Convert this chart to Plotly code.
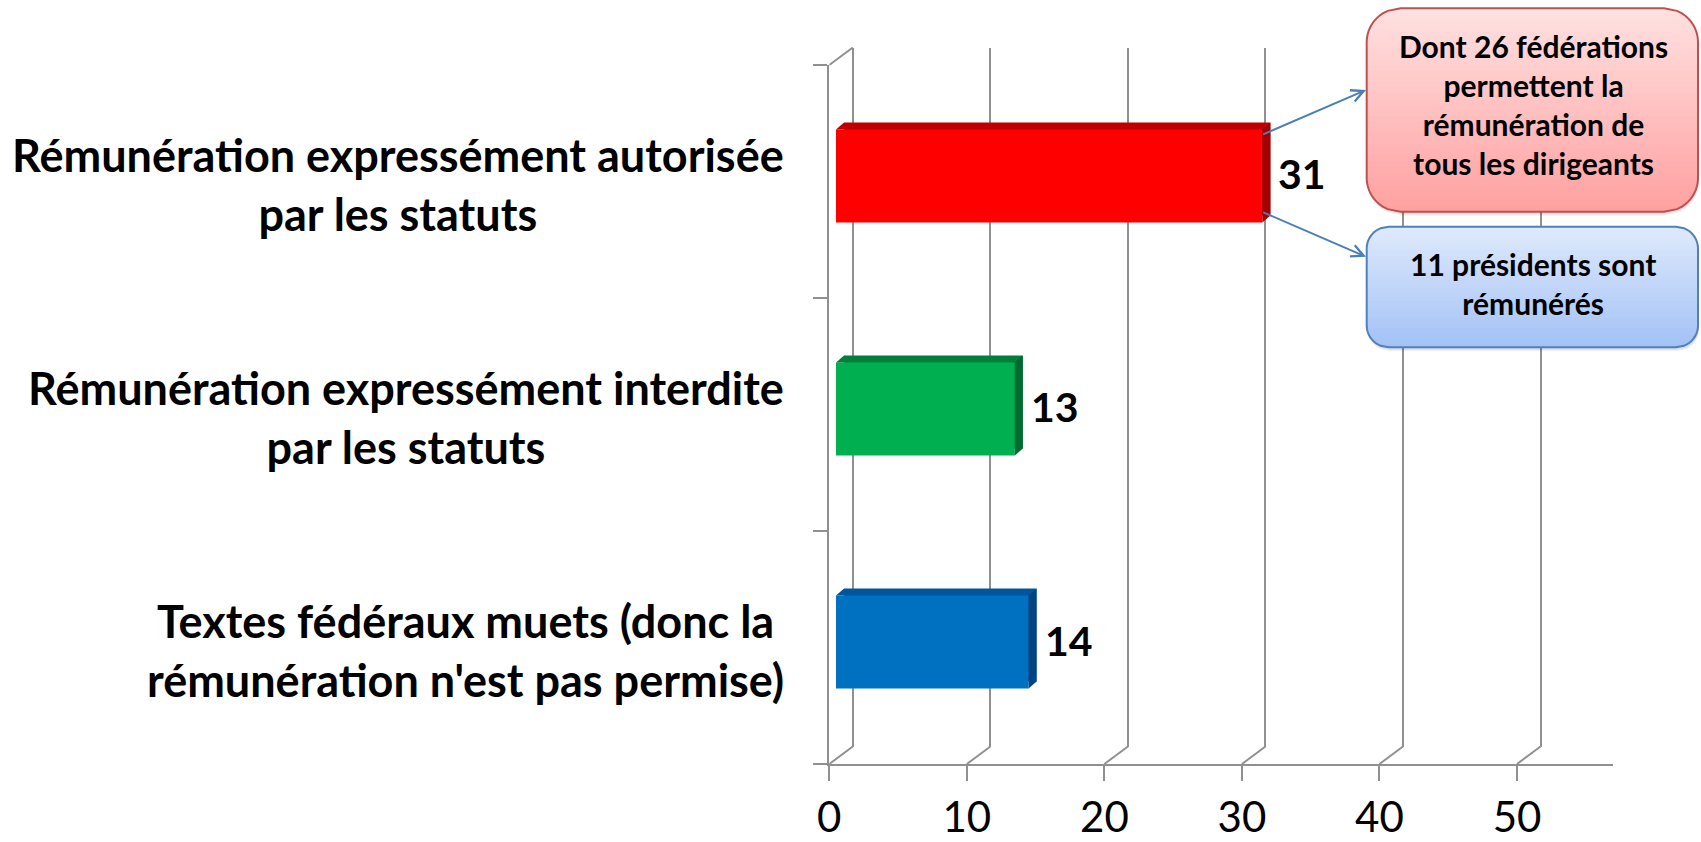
import numpy as np
import plotly.graph_objects as go

# ---- data -------------------------------------------------------------
CATEGORIES = [
    "Rémunération expressément autorisée<br>par les statuts",
    "Rémunération expressément interdite<br>par les statuts",
    "Textes fédéraux muets (donc la<br>rémunération n'est pas permise)",
]
VALUES = [31, 13, 14]
BAR_COLORS = ["#FF0000", "#00B050", "#0070C0"]
TOP_COLORS = ["#C00000", "#007F3A", "#00569E"]
SIDE_COLORS = ["#A30000", "#006B31", "#004580"]
X_TICKS = [0, 10, 20, 30, 40, 50]
X_MAX = 57

CALLOUT_RED = "Dont 26 fédérations<br>permettent la<br>rémunération de<br>tous les dirigeants"
CALLOUT_BLUE = "11 présidents sont<br>rémunérés"

# ---- geometry (pixels of the 1701x842 page) ---------------------------
W, H = 1701, 842
FONT = "Lato, 'Open Sans', sans-serif"
GRID = "#909090"

X0, X1 = 829.3, 1613.3          # front x axis
Y0, Y1 = 65, 764                # front y axis (top, bottom)
PPU = (X1 - X0) / X_MAX
BACK = (23.5, 17.5)             # depth of the back wall
FACE = (6.7, 5.5)               # front face of the bars
EXT = (8, 7)                    # bar thickness
BAR_W = 0.4
BAR_PX = BAR_W * (Y1 - Y0) / len(CATEGORIES)
PAD = 0.3                       # keeps the back gridline at 0 inside the range


def fx(x):
    return x / W


def fy(y):
    return 1 - y / H


def axes_pair(dx, dy, pad=0.0):
    return [fx(X0 + dx - pad * PPU), fx(X1 + dx)], [fy(Y1 - dy), fy(Y0 - dy)]


n = len(CATEGORIES)
y_pos = list(range(n))
y_range = [n - 0.5, -0.5]

fig = go.Figure()

# empty traces so the front and back axes get drawn
fig.add_trace(go.Scatter(x=[None], y=[None], xaxis="x", yaxis="y",
                         showlegend=False, hoverinfo="skip"))
fig.add_trace(go.Scatter(x=[None], y=[None], xaxis="x2", yaxis="y2",
                         showlegend=False, hoverinfo="skip"))

# depth of the bars (top face), then front faces
fig.add_trace(go.Bar(x=VALUES, y=y_pos, orientation="h", width=BAR_W,
                     marker=dict(color=TOP_COLORS, line_width=0),
                     xaxis="x3", yaxis="y3", showlegend=False, hoverinfo="skip"))
fig.add_trace(go.Bar(x=VALUES, y=y_pos, orientation="h", width=BAR_W,
                     marker=dict(color=BAR_COLORS, line_width=0),
                     xaxis="x4", yaxis="y4", showlegend=False,
                     hovertemplate="%{x}<extra></extra>"))

shapes = []
# side wall edge at the top and floor edges
shapes.append(dict(type="line", xref="x", yref="y domain", xsizemode="pixel", ysizemode="pixel",
                   xanchor=0, yanchor=1, x0=0, y0=0, x1=BACK[0], y1=BACK[1],
                   line=dict(color=GRID, width=2)))
for t in X_TICKS:
    shapes.append(dict(type="line", xref="x", yref="y domain", xsizemode="pixel", ysizemode="pixel",
                       xanchor=t, yanchor=0, x0=0, y0=0, x1=BACK[0], y1=BACK[1],
                       line=dict(color=GRID, width=2)))

# 3d faces of the bars
for i, v in enumerate(VALUES):
    h = BAR_PX / 2
    shapes.append(dict(type="path", xref="x4", yref="y4", xsizemode="pixel", ysizemode="pixel",
                       xanchor=v, yanchor=i,
                       path=f"M0,{h} L{EXT[0]},{h + EXT[1]} L{EXT[0]},{-h + EXT[1]} L0,{-h} Z",
                       fillcolor=SIDE_COLORS[i], line_width=0))
    shapes.append(dict(type="path", xref="x4", yref="y4", xsizemode="pixel", ysizemode="pixel",
                       xanchor=0, yanchor=i - BAR_W / 2,
                       path=f"M0,0 L{EXT[0]},0 L{EXT[0]},{EXT[1]} Z",
                       fillcolor=TOP_COLORS[i], line_width=0))


def rounded_box(x0, y0, x1, y1, r, c_top, c_bot, border, steps=36):
    """Rounded rectangle with a vertical gradient, built from thin strips."""
    def inset(y, top, bot):
        if y < top + r:
            d = top + r - y
        elif y > bot - r:
            d = y - (bot - r)
        else:
            return 0.0
        return r - np.sqrt(max(r * r - d * d, 0.0))

    def outline(ys, top=y0, bot=y1, dx=0):
        left = [(x0 + dx + inset(y, top, bot), y) for y in ys]
        right = [(x1 + dx - inset(y, top, bot), y) for y in ys[::-1]]
        pts = left + right
        return "M" + " L".join(f"{fx(a):.5f},{fy(b):.5f}" for a, b in pts) + " Z"

    out = []
    # soft shadow below the box
    for k, a in [(4, 0.06), (2.5, 0.08)]:
        out.append(dict(type="path", xref="paper", yref="paper",
                        path=outline(list(np.linspace(y0 + k, y1 + k, 60)), y0 + k, y1 + k, 1),
                        fillcolor=f"rgba(0,0,0,{a})", line_width=0))
    ct = np.array([int(c_top[k:k + 2], 16) for k in (1, 3, 5)])
    cb = np.array([int(c_bot[k:k + 2], 16) for k in (1, 3, 5)])
    edges = np.linspace(y0, y1, steps + 1)
    for k in range(steps):
        ya, yb = edges[k], min(edges[k + 1] + 1, y1)
        c = ct + (cb - ct) * (k + 0.5) / steps
        ys = list(np.linspace(ya, yb, 8))
        out.append(dict(type="path", xref="paper", yref="paper", path=outline(ys),
                        fillcolor="rgb(%d,%d,%d)" % tuple(c.round()), line_width=0))
    out.append(dict(type="path", xref="paper", yref="paper",
                    path=outline(list(np.linspace(y0, y1, 80))),
                    fillcolor="rgba(0,0,0,0)", line=dict(color=border, width=2)))
    return out


shapes += rounded_box(1366.7, 8.3, 1698, 211.7, 34, "#FFE1E1", "#FFA0A0", "#C0504D")
shapes += rounded_box(1366.7, 226.7, 1698, 347.3, 22, "#DFEAFC", "#A3C1F6", "#4F81BD")

annotations = []
for i, label in enumerate(CATEGORIES):
    annotations.append(dict(xref="paper", yref="y", x=fx(785.5), y=i, yshift=-3,
                            xanchor="right", yanchor="middle", align="center",
                            text=label, showarrow=False,
                            font=dict(family=FONT, size=45, color="black", weight="bold")))
for i, v in enumerate(VALUES):
    annotations.append(dict(xref="x4", yref="y4", x=v, y=i, xanchor="left", yanchor="middle",
                            xshift=14, yshift=2, text=f"<b>{v}</b>", showarrow=False,
                            font=dict(family=FONT, size=41, color="black")))

annotations.append(dict(xref="paper", yref="paper", x=fx(1533), y=fy(105), text=CALLOUT_RED,
                        showarrow=False, align="center", xanchor="center", yanchor="middle",
                        font=dict(family=FONT, size=30, color="black", weight="bold")))
annotations.append(dict(xref="paper", yref="paper", x=fx(1533), y=fy(283), text=CALLOUT_BLUE,
                        showarrow=False, align="center", xanchor="center", yanchor="middle",
                        font=dict(family=FONT, size=30, color="black", weight="bold")))
# arrows from the red bar to the callouts
for hx, hy, tx, ty in [(1366, 90, 1261.7, 135), (1366, 256.7, 1261.7, 211.7)]:
    annotations.append(dict(xref="paper", yref="paper", x=fx(hx), y=fy(hy), text="",
                            showarrow=True, axref="pixel", ayref="pixel",
                            ax=tx - hx, ay=ty - hy, arrowhead=5, arrowsize=1.2,
                            arrowwidth=2, arrowcolor="#4A7EBB"))

hidden = dict(showgrid=False, zeroline=False, showline=False, showticklabels=False,
              ticks="", automargin=False)

xd, yd = axes_pair(0, 0)
xd2, yd2 = axes_pair(*BACK, pad=PAD)
xd3, yd3 = axes_pair(FACE[0] + EXT[0], FACE[1] + EXT[1])
xd4, yd4 = axes_pair(*FACE)

fig.update_layout(
    width=W, height=H, autosize=False,
    margin=dict(l=0, r=0, t=0, b=0, pad=0, autoexpand=False),
    paper_bgcolor="white", plot_bgcolor="rgba(0,0,0,0)",
    showlegend=False, barmode="overlay",
    font=dict(family=FONT, color="black"),
    xaxis=dict(domain=xd, range=[0, X_MAX], anchor="y", tickvals=X_TICKS, automargin=False,
               showgrid=False, zeroline=False, showline=True, linecolor=GRID, linewidth=2,
               ticks="outside", ticklen=15, tickwidth=2, tickcolor=GRID,
               ticklabelstandoff=1, tickfont=dict(family=FONT, size=42, color="black")),
    yaxis=dict(domain=yd, range=y_range, anchor="x", automargin=False,
               tickvals=[k - 0.5 for k in range(n + 1)], showticklabels=False,
               showgrid=False, zeroline=False, showline=True, linecolor=GRID, linewidth=2,
               ticks="outside", ticklen=14, tickwidth=2, tickcolor=GRID),
    xaxis2=dict(domain=xd2, range=[-PAD, X_MAX], anchor="y2", tickvals=X_TICKS,
                showgrid=True, gridcolor=GRID, gridwidth=2, zeroline=False, automargin=False,
                showline=False, showticklabels=False, ticks=""),
    yaxis2=dict(domain=yd2, range=y_range, anchor="x2", **hidden),
    xaxis3=dict(domain=xd3, range=[0, X_MAX], anchor="y3", **hidden),
    yaxis3=dict(domain=yd3, range=y_range, anchor="x3", **hidden),
    xaxis4=dict(domain=xd4, range=[0, X_MAX], anchor="y4", **hidden),
    yaxis4=dict(domain=yd4, range=y_range, anchor="x4", **hidden),
    shapes=shapes,
    annotations=annotations,
)

fig.write_html(
    "out.html",
    config={"displayModeBar": False},
    post_script=(
        "document.body.style.margin='0';"
        "document.body.style.overflow='hidden';"
        "document.documentElement.style.overflow='hidden';"
    ),
)
